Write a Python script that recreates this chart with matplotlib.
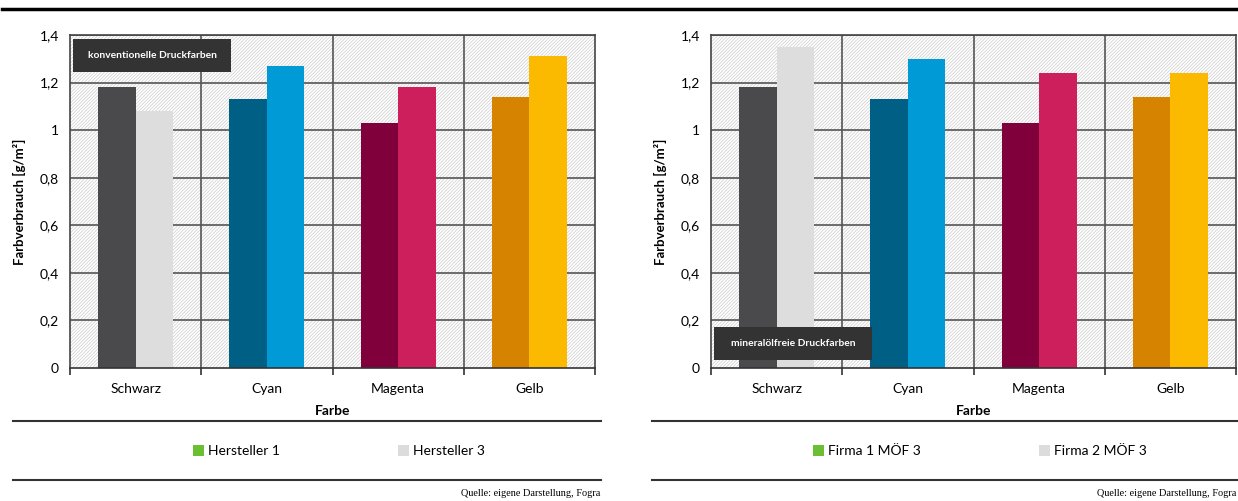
import matplotlib
matplotlib.use("Agg")
import matplotlib.pyplot as plt
from matplotlib.patches import Patch
from matplotlib.lines import Line2D
import numpy as np

plt.rcParams['font.family'] = ['Lato', 'DejaVu Sans']
plt.rcParams['hatch.linewidth'] = 0.5

categories = ["Schwarz", "Cyan", "Magenta", "Gelb"]
left_s1 = [1.18, 1.13, 1.03, 1.14]
left_s2 = [1.08, 1.27, 1.18, 1.31]
right_s1 = [1.18, 1.13, 1.03, 1.14]
right_s2 = [1.35, 1.30, 1.24, 1.24]
left_names = ["Hersteller 1", "Hersteller 3"]
right_names = ["Firma 1 MÖF 3", "Firma 2 MÖF 3"]
yticks = [0, 0.2, 0.4, 0.6, 0.8, 1.0, 1.2, 1.4]
ytick_labels = ["0", "0,2", "0,4", "0,6", "0,8", "1", "1,2", "1,4"]

dark_colors = ["#4a4a4c", "#005f85", "#80003c", "#d68400"]
light_colors = ["#dcdddc", "#009ad6", "#cc1f5c", "#fbb900"]
legend_colors = ["#6abf32", "#dcdcdc"]

W, H = 1238, 501
fig = plt.figure(figsize=(W / 100, H / 100), dpi=100)

def fx(px):
    return px / W

def fy(py):
    return 1 - py / H

def panel(ax_left_px, s1, s2, names, box_text, box_top, line_x0, line_x1):
    ax = fig.add_axes([fx(ax_left_px), fy(368), fx(525), (368 - 35) / H])
    ax.set_xlim(-0.5, 3.5)
    ax.set_ylim(0, 1.4)
    # hatched background
    ax.add_patch(plt.Rectangle((-0.5, 0), 4, 1.4, facecolor="white",
                               edgecolor="#cccccc", hatch="//////////", lw=0, zorder=0))
    for y in yticks[1:]:
        ax.axhline(y, color="#555555", lw=1.2, zorder=1)
    for xb in [0.5, 1.5, 2.5]:
        ax.axvline(xb, color="#555555", lw=1.2, zorder=1)
    x = np.arange(len(categories))
    bw = 0.285
    ax.bar(x - bw / 2, s1, width=bw, color=dark_colors, zorder=2)
    ax.bar(x + bw / 2, s2, width=bw, color=light_colors, zorder=2)
    ax.set_yticks(yticks)
    ax.set_yticklabels(ytick_labels, fontsize=10)
    ax.tick_params(axis="y", length=0, pad=8)
    ax.set_xticks([0, 1, 2, 3])
    ax.set_xticklabels(categories, fontsize=10)
    ax.set_xticks([-0.5, 0.5, 1.5, 2.5, 3.5], minor=True)
    ax.tick_params(axis="x", which="major", length=0, pad=11)
    ax.tick_params(axis="x", which="minor", length=5, color="#333333", width=1.2)
    for sp in ax.spines.values():
        sp.set_color("#444444")
        sp.set_linewidth(1.2)
    ax.spines["bottom"].set_color("#333333")
    ax.set_ylabel("Farbverbrauch [g/m²]", fontsize=9.5, fontweight="bold", labelpad=10)
    ax.set_xlabel("Farbe", fontsize=10, fontweight="bold", labelpad=7)
    # annotation box
    bx0 = ax_left_px + 3
    box_w = 158
    fig.patches.append(plt.Rectangle((fx(bx0), fy(box_top + 33)), fx(box_w), 33 / H,
                                     transform=fig.transFigure, facecolor="#333333",
                                     edgecolor="none", zorder=5))
    fig.text(fx(bx0 + box_w / 2), fy(box_top + 16.5), box_text, color="white",
             fontsize=7.4, fontweight="bold", ha="center", va="center", zorder=6)
    # separator lines
    for yy in [421, 480]:
        fig.add_artist(Line2D([fx(line_x0), fx(line_x1)], [fy(yy), fy(yy)],
                              color="#333333", lw=1.5))
    # legend
    handles = [Patch(facecolor=c, edgecolor="none") for c in legend_colors]
    fig.legend(handles, names, loc="center", ncol=2, frameon=False,
               bbox_to_anchor=(fx(ax_left_px + 269), fy(451)), fontsize=10,
               columnspacing=8.5, handlelength=0.8, handleheight=0.8, handletextpad=0.3)
    fig.text(fx(line_x1 - 1), fy(494), "Quelle: eigene Darstellung, Fogra",
             fontsize=7.4, family="Liberation Serif", ha="right", va="center")
    return ax

panel(70, left_s1, left_s2, left_names, "konventionelle Druckfarben", 39, 13, 601)
panel(711, right_s1, right_s2, right_names, "mineralölfreie Druckfarben", 327, 652, 1237)

# top rule
fig.add_artist(Line2D([fx(2), fx(1238)], [fy(8.5), fy(8.5)], color="black", lw=2.5))

fig.savefig("out.png", dpi=100)
